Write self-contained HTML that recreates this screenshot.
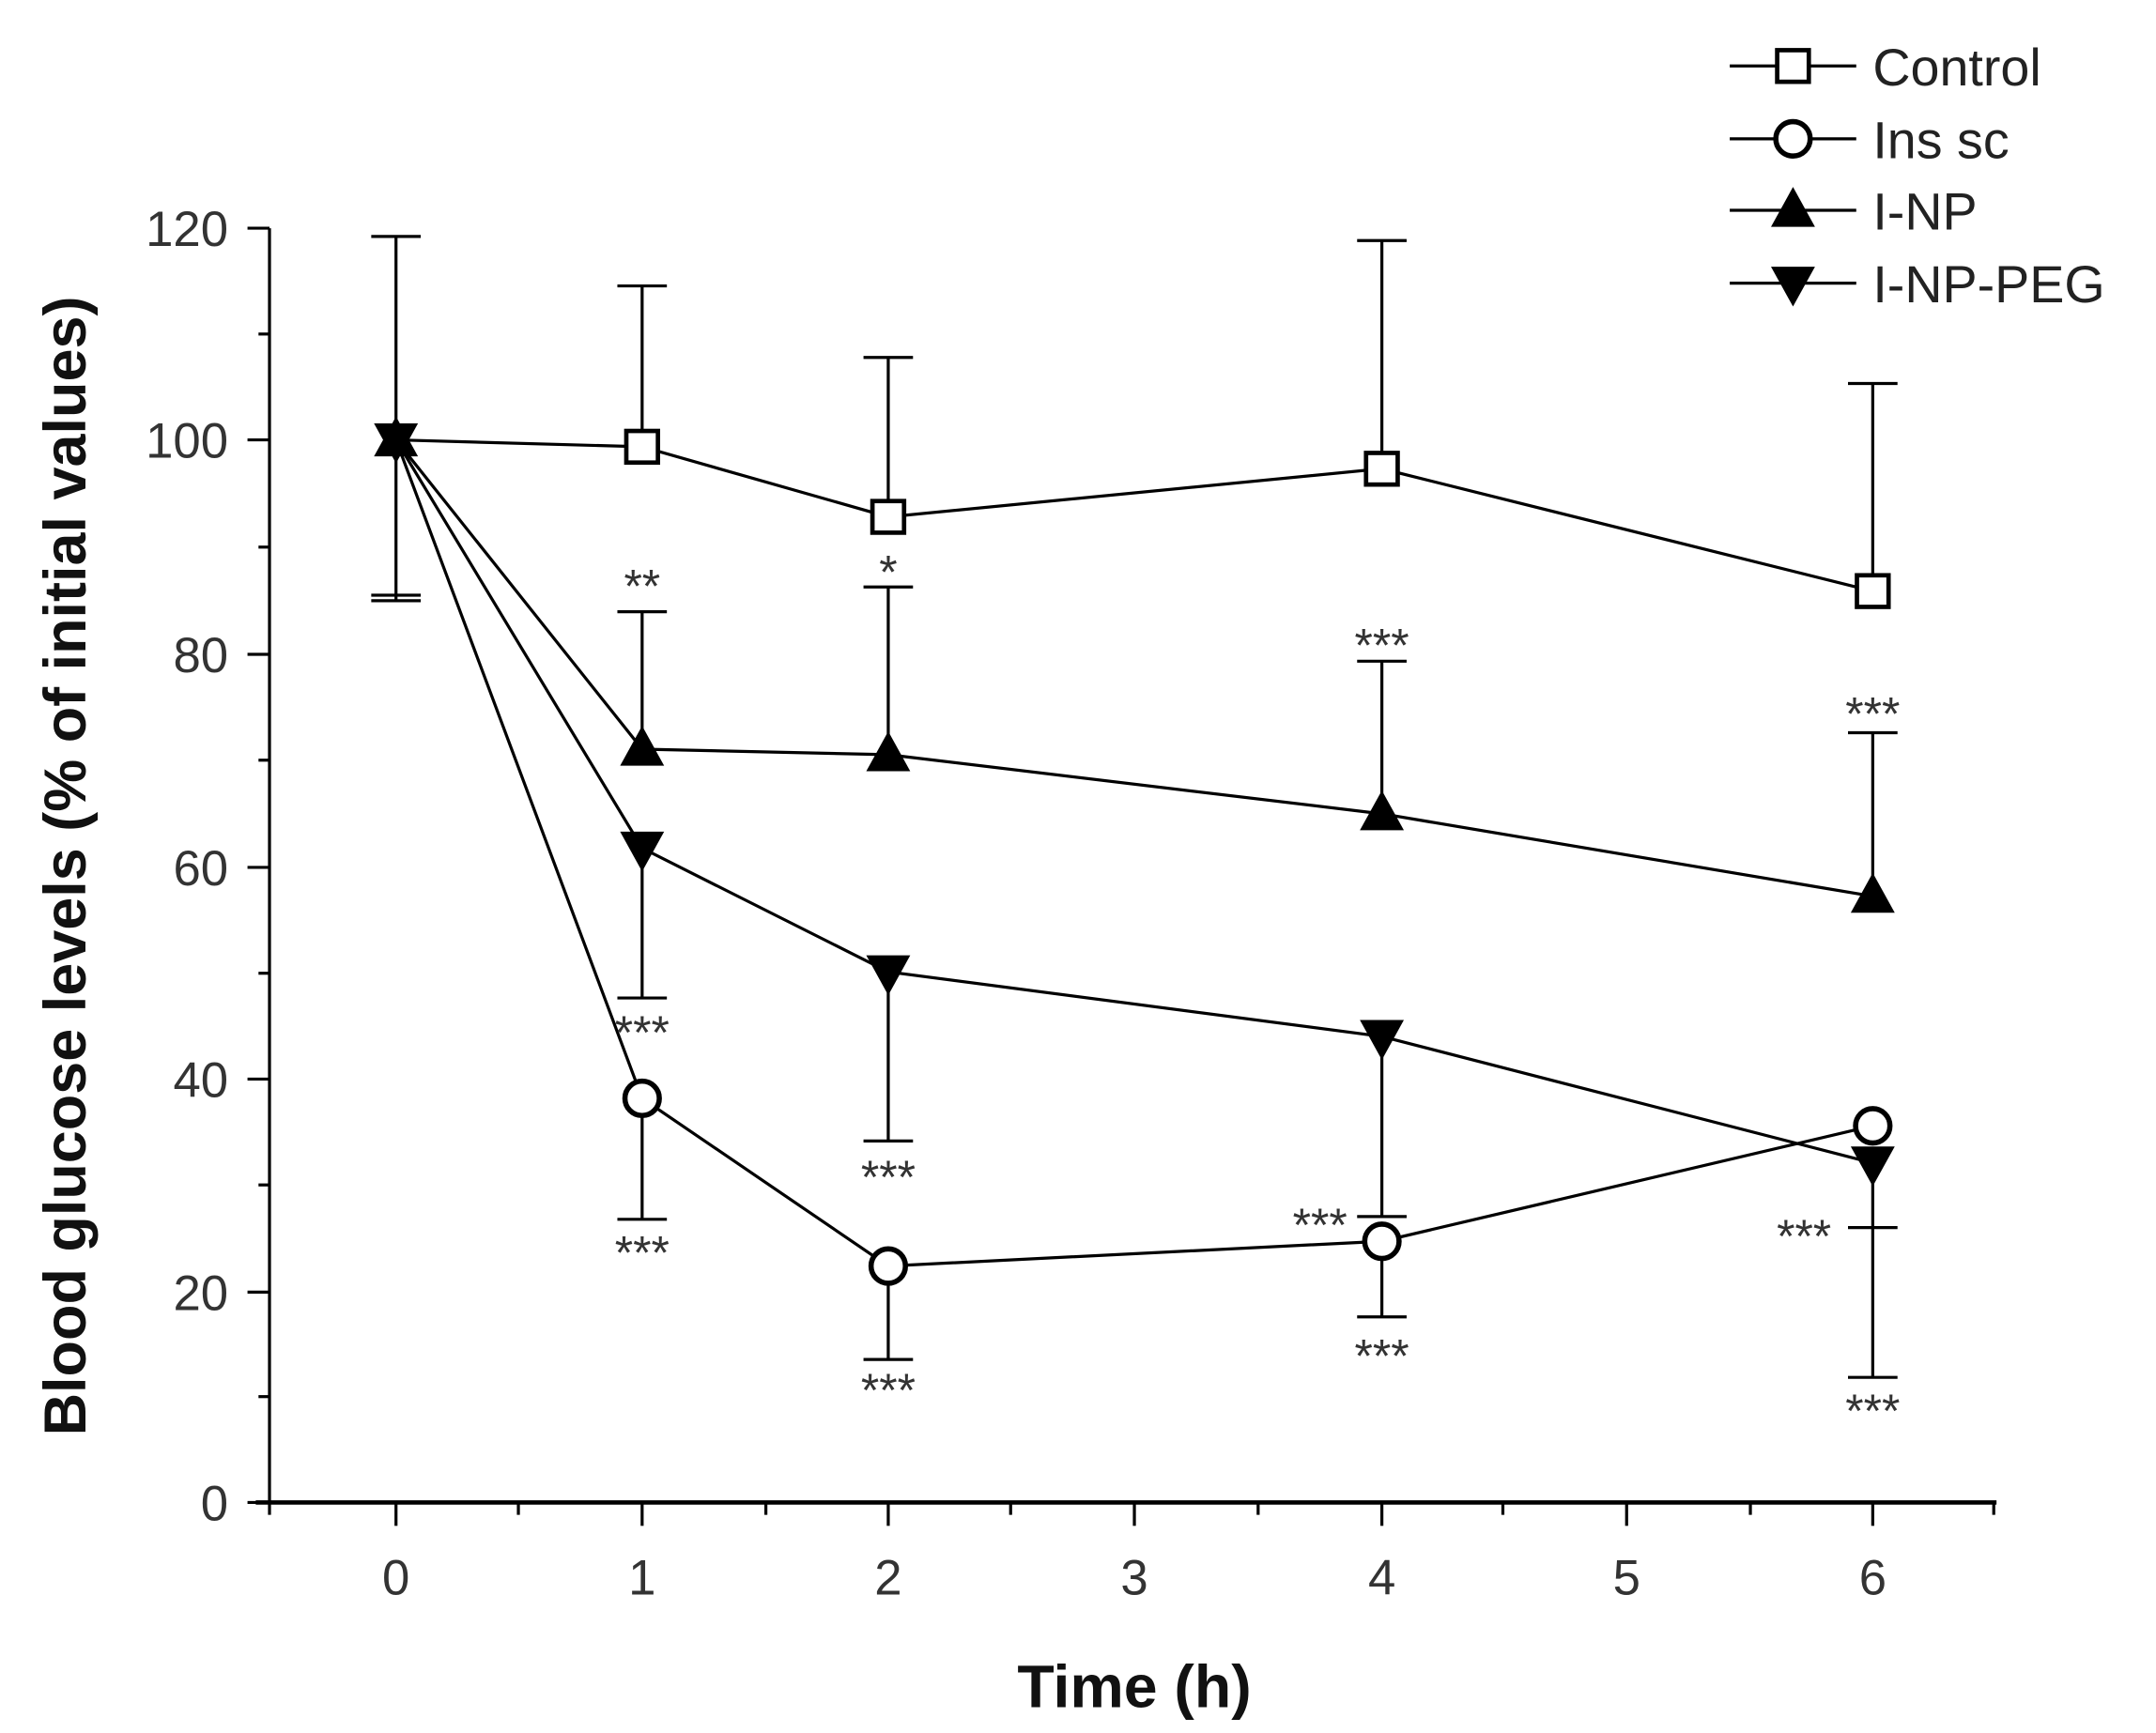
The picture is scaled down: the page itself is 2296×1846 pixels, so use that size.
<!DOCTYPE html>
<html><head><style>html,body{margin:0;padding:0;background:#fff}svg{display:block}</style></head><body>
<svg width="2296" height="1846" viewBox="0 0 1568 1260.7" preserveAspectRatio="none" xmlns="http://www.w3.org/2000/svg" font-family="Liberation Sans, Arial, sans-serif">
<defs>
<g id="sq"><rect x="-11.5" y="-11.5" width="23" height="23" fill="#fff" stroke="#000" stroke-width="3.2"/></g>
<g id="ci"><circle r="12.5" fill="#fff" stroke="#000" stroke-width="3.8"/></g>
<g id="tu"><polygon points="0,-17 16,12 -16,12" fill="#000"/></g>
<g id="td"><polygon points="0,17 16,-12 -16,-12" fill="#000"/></g>
</defs>
<g stroke="#000" stroke-width="2.2" fill="none">
<line x1="196" y1="166" x2="196" y2="1093"/>
<line x1="186" y1="1093" x2="1452" y2="1093" stroke-width="3.2"/>
<line x1="180" y1="166" x2="196" y2="166"/><line x1="188" y1="243" x2="196" y2="243"/>
<line x1="180" y1="320" x2="196" y2="320"/><line x1="188" y1="398" x2="196" y2="398"/>
<line x1="180" y1="476" x2="196" y2="476"/><line x1="188" y1="553" x2="196" y2="553"/>
<line x1="180" y1="631" x2="196" y2="631"/><line x1="188" y1="708" x2="196" y2="708"/>
<line x1="180" y1="785" x2="196" y2="785"/><line x1="188" y1="862" x2="196" y2="862"/>
<line x1="180" y1="940" x2="196" y2="940"/><line x1="188" y1="1016" x2="196" y2="1016"/>
<line x1="180" y1="1093" x2="196" y2="1093"/>
<line x1="288" y1="1093" x2="288" y2="1110"/><line x1="467" y1="1093" x2="467" y2="1110"/>
<line x1="646" y1="1093" x2="646" y2="1110"/><line x1="825" y1="1093" x2="825" y2="1110"/>
<line x1="1005" y1="1093" x2="1005" y2="1110"/><line x1="1183" y1="1093" x2="1183" y2="1110"/>
<line x1="1362" y1="1093" x2="1362" y2="1110"/>
<line x1="196" y1="1093" x2="196" y2="1102"/><line x1="377" y1="1093" x2="377" y2="1102"/>
<line x1="557" y1="1093" x2="557" y2="1102"/><line x1="735" y1="1093" x2="735" y2="1102"/>
<line x1="915" y1="1093" x2="915" y2="1102"/><line x1="1093" y1="1093" x2="1093" y2="1102"/>
<line x1="1273" y1="1093" x2="1273" y2="1102"/><line x1="1450" y1="1093" x2="1450" y2="1102"/>
<path d="M288 172V437 M270 172H306 M270 433H306 M270 437H306"/>
<path d="M467 325V208 M449 208H485"/>
<path d="M646 376V260 M628 260H664"/>
<path d="M1005 341V175 M987 175H1023"/>
<path d="M1362 430V279 M1344 279H1380"/>
<path d="M467 799V887 M449 887H485"/>
<path d="M646 921V989 M628 989H664"/>
<path d="M1005 903V958 M987 958H1023"/>
<path d="M467 545V445 M449 445H485"/>
<path d="M646 549V427 M628 427H664"/>
<path d="M1005 592V481 M987 481H1023"/>
<path d="M1362 652V533 M1344 533H1380"/>
<path d="M467 617V726 M449 726H485"/>
<path d="M646 707V830 M628 830H664"/>
<path d="M1005 754V885 M987 885H1023"/>
<path d="M1362 846V1002 M1344 1002H1380 M1344 893H1380"/>
<polyline points="288,320 467,325 646,376 1005,341 1362,430"/>
<polyline points="288,320 467,799 646,921 1005,903 1362,819"/>
<polyline points="288,320 467,545 646,549 1005,592 1362,652"/>
<polyline points="288,320 467,617 646,707 1005,754 1362,846"/>
<line x1="1258" y1="48" x2="1350" y2="48"/><line x1="1258" y1="101" x2="1350" y2="101"/>
<line x1="1258" y1="153" x2="1350" y2="153"/><line x1="1258" y1="206" x2="1350" y2="206"/>
</g>
<use href="#sq" x="467" y="325"/><use href="#sq" x="646" y="376"/><use href="#sq" x="1005" y="341"/><use href="#sq" x="1362" y="430"/>
<use href="#ci" x="467" y="799"/><use href="#ci" x="646" y="921"/><use href="#ci" x="1005" y="903"/><use href="#ci" x="1362" y="819"/>
<use href="#tu" x="467" y="545"/><use href="#tu" x="646" y="549"/><use href="#tu" x="1005" y="592"/><use href="#tu" x="1362" y="652"/>
<use href="#td" x="467" y="617"/><use href="#td" x="646" y="707"/><use href="#td" x="1005" y="754"/><use href="#td" x="1362" y="846"/>
<use href="#tu" x="288" y="320"/><use href="#td" x="288" y="320"/>
<use href="#sq" x="1304" y="48"/><use href="#ci" x="1304" y="101"/><use href="#tu" x="1304" y="153"/><use href="#td" x="1304" y="206"/>
<g font-size="38" fill="#222">
<text x="1362" y="62">Control</text><text x="1362" y="115">Ins sc</text>
<text x="1362" y="167">I-NP</text><text x="1362" y="220">I-NP-PEG</text>
</g>
<g font-size="36" fill="#333" text-anchor="end">
<text x="166" y="179">120</text><text x="166" y="333">100</text><text x="166" y="489">80</text>
<text x="166" y="644">60</text><text x="166" y="798">40</text><text x="166" y="953">20</text><text x="166" y="1106">0</text>
</g>
<g font-size="36" fill="#333" text-anchor="middle">
<text x="288" y="1160">0</text><text x="467" y="1160">1</text><text x="646" y="1160">2</text><text x="825" y="1160">3</text>
<text x="1005" y="1160">4</text><text x="1183" y="1160">5</text><text x="1362" y="1160">6</text>
</g>
<g font-size="34" fill="#333" text-anchor="middle">
<text x="467" y="438">**</text><text x="646" y="428">*</text><text x="1005" y="481">***</text><text x="1362" y="531">***</text>
<text x="467" y="763">***</text><text x="646" y="868">***</text><text x="467" y="923">***</text><text x="960" y="903">***</text>
<text x="646" y="1023">***</text><text x="1005" y="998">***</text><text x="1312" y="911">***</text><text x="1362" y="1038">***</text>
</g>
<text x="825" y="1242" font-size="44" font-weight="bold" text-anchor="middle" fill="#111">Time (h)</text>
<text transform="translate(62,630) rotate(-90)" font-size="43" font-weight="bold" text-anchor="middle" fill="#111">Blood glucose levels (% of initial values)</text>
</svg>
</body></html>
